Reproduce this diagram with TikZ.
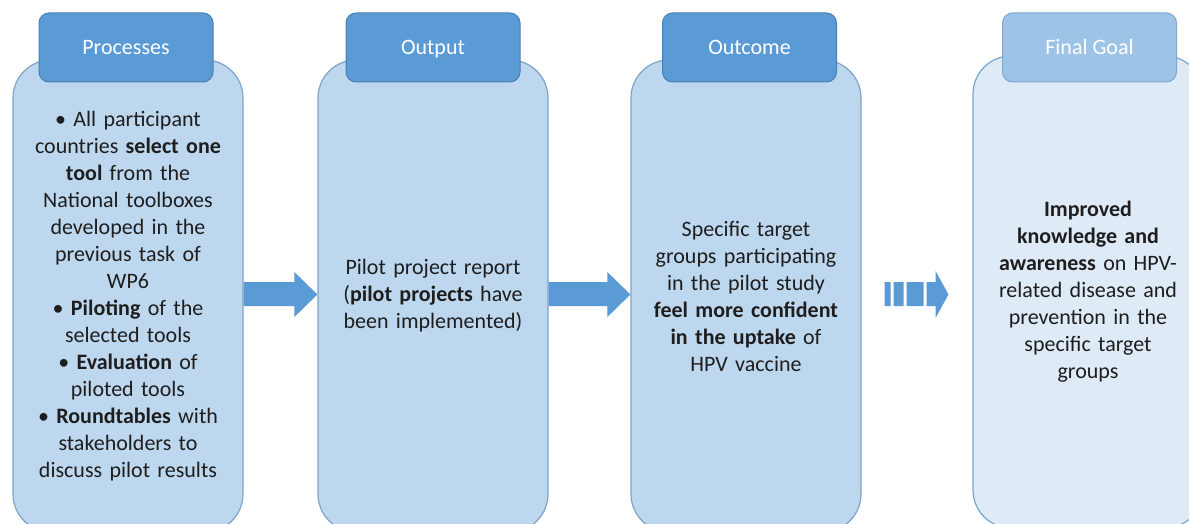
\documentclass[tikz,border=0pt]{standalone}
\usepackage{fontspec}
\setmainfont{Carlito}
\usetikzlibrary{calc}
\definecolor{headblue}{HTML}{5B9BD5}
\definecolor{headline}{HTML}{4A7FB5}
\definecolor{boxfill}{HTML}{BDD7EE}
\definecolor{boxline}{HTML}{7EA3CB}
\definecolor{lightfill}{HTML}{DEEBF7}
\definecolor{lighthead}{HTML}{9DC3E6}
\definecolor{lightheadline}{HTML}{7FA8D2}
\definecolor{txtcol}{HTML}{1E1E1E}
\tikzset{
  box/.style={draw=boxline, line width=1.2pt, fill=boxfill, rounded corners=38pt,
    minimum width=230pt, minimum height=472pt, text width=215pt, align=center,
    text=txtcol, font=\fontsize{22pt}{27pt}\selectfont, inner sep=0pt},
  head/.style={draw=headline, line width=1pt, fill=headblue, rounded corners=10pt,
    minimum width=174pt, minimum height=69pt, text=white,
    text height=15pt, text depth=0pt,
    font=\fontsize{22pt}{26pt}\selectfont, inner sep=0pt},
  arr/.style={fill=headblue}
}
\begin{document}
\begin{tikzpicture}[x=1pt,y=-1pt]
\clip (0,0) rectangle (1189,524);
\fill[white] (0,0) rectangle (1189,524);
% boxes
\node[box] (b1) at (128,296) {\textbullet{} All participant\\countries \textbf{select one}\\\textbf{tool} from the\\National toolboxes\\developed in the\\previous task of\\WP6\\\textbullet{} \textbf{Piloting} of the\\selected tools\\\textbullet{} \textbf{Evaluation} of\\piloted tools\\\textbullet{} \textbf{Roundtables} with\\stakeholders to\\discuss pilot results};
\node[box] (b2) at (433,296) {Pilot project report\\(\textbf{pilot projects} have\\been implemented)};
\node[box] (b3) at (746,296) {Specific target\\groups participating\\in the pilot study\\\textbf{feel more confident}\\\textbf{in the uptake} of\\HPV vaccine};
\node[box, fill=lightfill] (b4) at (1088,292) {\textbf{Improved}\\\textbf{knowledge and}\\\textbf{awareness} on HPV-\\related disease and\\prevention in the\\specific target\\groups};
% headers
\node[head] (h1) at (126,47.5) {Processes};
\node[head] (h2) at (433,47.5) {Output};
\node[head] (h3) at (749.5,47.5) {Outcome};
\node[head, fill=lighthead, draw=lightheadline] (h4) at (1089.5,47.5) {Final Goal};
% arrows
\fill[arr] let \p1=(b1.east), \p2=(b2.west) in
  (\x1,282) -- (\x2-23pt,282) -- (\x2-23pt,272) -- (\x2,294.5) -- (\x2-23pt,317)
  -- (\x2-23pt,306) -- (\x1,306) -- cycle;
\fill[arr] let \p1=(b2.east), \p2=(b3.west) in
  (\x1,282) -- (\x2-23pt,282) -- (\x2-23pt,272) -- (\x2,294.5) -- (\x2-23pt,317)
  -- (\x2-23pt,306) -- (\x1,306) -- cycle;
% striped arrow
\fill[arr] let \p1=(b3.east), \p2=(b4.west) in
  (\x1+23pt,282) rectangle (\x1+29pt,306)
  (\x1+32pt,282) rectangle (\x1+42pt,306)
  (\x1+45pt,282) rectangle (\x1+62pt,306)
  (\x1+65pt,282) -- (\x1+74pt,282) -- (\x1+74pt,271) -- (\x2-24pt,294.5)
  -- (\x1+74pt,318) -- (\x1+74pt,306) -- (\x1+65pt,306) -- cycle;
\end{tikzpicture}
\end{document}
